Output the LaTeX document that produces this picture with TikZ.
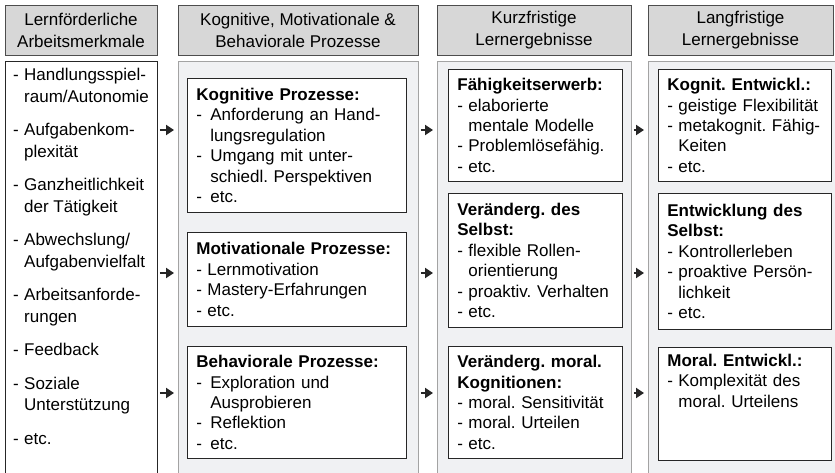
\documentclass[tikz,border=0pt]{standalone}
\usepackage{fontspec}
\setmainfont{Liberation Sans}
\usetikzlibrary{arrows.meta}
\frenchspacing
\definecolor{hdrfill}{HTML}{D7D7D7}
\definecolor{hdrline}{HTML}{4D4D4D}
\definecolor{colfill}{HTML}{F0F1F3}
\definecolor{colline}{HTML}{A3A3A3}
\newcommand\dsh[1][11pt]{\makebox[#1][l]{-}}
\newcommand\ind[1][11pt]{\hspace*{#1}}

\begin{document}
\begin{tikzpicture}[x=1pt, y=-1pt,
  hdr/.style={draw=hdrline, fill=hdrfill, line width=.8pt, inner sep=0pt, align=center,
    minimum height=50pt, font=\fontsize{17}{22}\selectfont},
  colbox/.style={draw=colline, fill=colfill, line width=.8pt, anchor=north west,
    minimum height=430pt, inner sep=0pt},
  inbox/.style={draw=black!85, fill=white, line width=.8pt, anchor=north west, align=left,
    text width=#1, inner xsep=9pt, inner ysep=0pt, font=\fontsize{17}{20.4}\selectfont},
  arr/.style={line width=2pt, black!85, -{Triangle[length=8pt,width=10pt]}, shorten <=2pt, shorten >=4pt}]
\useasboundingbox (0,0) rectangle (835,473);
\fill[white] (0,0) rectangle (835,473);
\clip (0,0) rectangle (835,473);

\node[hdr, minimum width=152pt] (h1) at (81,30) {Lernförderliche\\Arbeitsmerkmale};
\node[hdr, minimum width=240pt] (h2) at (298,30) {Kognitive, Motivationale \&\\Behaviorale Prozesse};
\node[hdr, minimum width=194pt] (h3) at (534,30) {Kurzfristige\\Lernergebnisse};
\node[hdr, minimum width=185pt] (h4) at (740.5,30) {Langfristige\\Lernergebnisse};

\node[colbox, draw=black!85, fill=white, minimum width=152pt] (b1) at (5,61) {};
\node[colbox, minimum width=240pt] (b2) at (178,61) {};
\node[colbox, minimum width=194pt] (b3) at (437,61) {};
\node[colbox, minimum width=195pt] (b4) at (648,61) {};

\node[anchor=north west, align=left, inner sep=0pt, font=\fontsize{17}{21.5}\selectfont]
  (l1) at ([xshift=8pt, yshift=-7pt]b1.north west) {%
  \dsh Handlungsspiel-\\ \ind raum/Autonomie\\[12pt]
  \dsh Aufgabenkom-\\ \ind plexität\\[12pt]
  \dsh Ganzheitlichkeit\\ \ind der Tätigkeit\\[12pt]
  \dsh Abwechslung/\\ \ind Aufgabenvielfalt\\[12pt]
  \dsh Arbeitsanforde-\\ \ind rungen\\[12pt]
  \dsh Feedback\\[12pt]
  \dsh Soziale\\ \ind Unterstützung\\[12pt]
  \dsh etc.};

\node[inbox=201pt, minimum height=134pt] (kog) at (187,78) {\textbf{Kognitive Prozesse:}\\
  \dsh[14pt]Anforderung an Hand-\\ \ind[14pt]lungsregulation\\
  \dsh[14pt]Umgang mit unter-\\ \ind[14pt]schiedl. Perspektiven\\ \dsh[14pt]etc.};
\node[inbox=201pt, minimum height=94pt] (mot) at (187,232) {\textbf{Motivationale Prozesse:}\\
  \dsh Lernmotivation\\ \dsh Mastery-Erfahrungen\\ \dsh etc.};
\node[inbox=201pt, minimum height=112pt] (beh) at (187,346) {\textbf{Behaviorale Prozesse:}\\
  \dsh[14pt]Exploration und\\ \ind[14pt]Ausprobieren\\ \dsh[14pt]Reflektion\\ \dsh[14pt]etc.};

\node[inbox=156pt, minimum height=112pt] (fae) at (448,69) {\textbf{Fähigkeitserwerb:}\\
  \dsh elaborierte\\ \ind mentale Modelle\\ \dsh Problemlösefähig.\\ \dsh etc.};
\node[inbox=156pt, minimum height=134pt] (sel) at (448,193) {\textbf{Veränderg. des}\\ \textbf{Selbst:}\\
  \dsh flexible Rollen-\\ \ind orientierung\\ \dsh proaktiv. Verhalten\\ \dsh etc.};
\node[inbox=156pt, minimum height=112pt] (mor) at (448,346) {\textbf{Veränderg. moral.}\\ \textbf{Kognitionen:}\\
  \dsh moral. Sensitivität\\ \dsh moral. Urteilen\\ \dsh etc.};

\node[inbox=155pt, minimum height=112pt] (kent) at (658,69) {\textbf{Kognit. Entwickl.:}\\
  \dsh geistige Flexibilität\\ \dsh metakognit. Fähig-\\ \ind Keiten\\ \dsh etc.};
\node[inbox=155pt, minimum height=136pt] (esel) at (658,193) {\textbf{Entwicklung des}\\ \textbf{Selbst:}\\
  \dsh Kontrollerleben\\ \dsh proaktive Persön-\\ \ind lichkeit\\ \dsh etc.};
\node[inbox=155pt, minimum height=113pt] (ment) at (658,347) {\textbf{Moral. Entwickl.:}\\
  \dsh Komplexität des\\ \ind moral. Urteilens\\ \strut\\ \strut};

\foreach \a/\b in {b1/b2, b2/b3, b3/b4}
  \foreach \y in {130, 273, 393}
    \draw[arr] (\a.east |- 0,\y) -- (\b.west |- 0,\y);
\end{tikzpicture}
\end{document}
